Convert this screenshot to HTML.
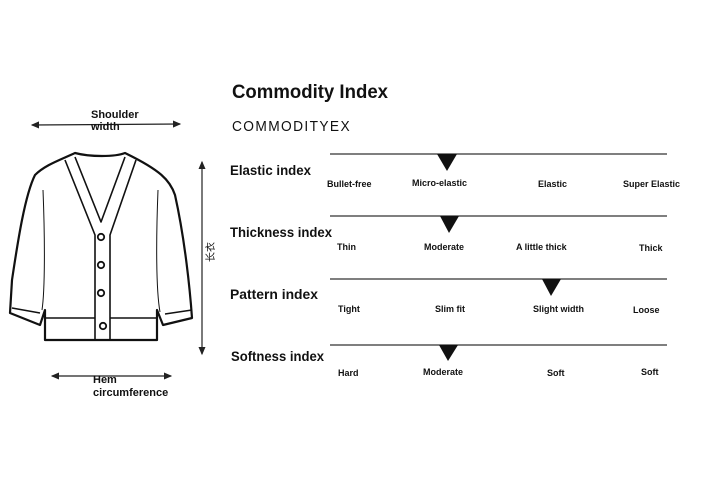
<!DOCTYPE html>
<html><head><meta charset="utf-8"><style>
html,body{margin:0;padding:0;background:#fff;}
svg{display:block}
text{font-family:"Liberation Sans","DejaVu Sans",sans-serif;fill:#111;font-weight:bold}
</style></head><body>
<svg width="720" height="487" viewBox="0 0 720 487" xmlns="http://www.w3.org/2000/svg">
<defs><marker id="a" markerWidth="8" markerHeight="8" refX="6" refY="3" orient="auto-start-reverse"><path d="M0,0 L7,3 L0,6 z" fill="#222"/></marker></defs>
<line x1="32" y1="125" x2="180" y2="124" stroke="#222" stroke-width="1.2" marker-start="url(#a)" marker-end="url(#a)"/>
<text x="91" y="118" font-size="11">Shoulder</text>
<text x="91" y="130" font-size="11">width</text>
<line x1="202" y1="162" x2="202" y2="354" stroke="#222" stroke-width="1.2" marker-start="url(#a)" marker-end="url(#a)"/>
<text x="0" y="0" font-size="10" transform="translate(214,252) rotate(-90)" text-anchor="middle" style="font-family:'Noto Sans CJK SC',sans-serif;font-weight:normal">长衣</text>
<line x1="52" y1="376" x2="171" y2="376" stroke="#222" stroke-width="1.2" marker-start="url(#a)" marker-end="url(#a)"/>
<text x="93" y="383" font-size="11">Hem</text>
<text x="93" y="396" font-size="11">circumference</text>
<g fill="none" stroke="#111" stroke-width="2.2" stroke-linejoin="round">
<path d="M75,153 C60,160 45,165 35,175 C25,195 18,240 12,280 L10,313 L40,325 L45,310 L45,340 L157,340 L157,310 L163,325 L192,318 C190,290 185,240 175,195 C170,180 160,170 125,153 C115,157 90,157 75,153 Z"/>
<path d="M65,160 L95,235 L95,340 M136,160 L110,235 L110,340" stroke-width="1.6"/>
<path d="M75,157 L101,222 L125,157" stroke-width="1.6"/>
<path d="M45,318 L95,318 M110,318 L157,318" stroke-width="1.6"/>
<path d="M12,308 L40,313 M192,310 L165,314" stroke-width="1.4"/>
<path d="M43,190 C45,240 45,290 42,310 M158,190 C156,240 156,290 160,312" stroke-width="1"/>
</g>
<g fill="#fff" stroke="#111" stroke-width="1.8">
<circle cx="101" cy="237" r="3.2"/><circle cx="101" cy="265" r="3.2"/><circle cx="101" cy="293" r="3.2"/><circle cx="103" cy="326" r="3.2"/>
</g>
<text x="232" y="98" font-size="19" textLength="156" lengthAdjust="spacingAndGlyphs">Commodity Index</text>
<text x="232" y="131" font-size="15" style="font-weight:normal;letter-spacing:1.5px" textLength="119" lengthAdjust="spacingAndGlyphs">COMMODITYEX</text>
<g stroke="#333" stroke-width="1.3">
<line x1="330" y1="154" x2="667" y2="154"/>
<line x1="330" y1="216" x2="667" y2="216"/>
<line x1="330" y1="279" x2="667" y2="279"/>
<line x1="330" y1="345" x2="667" y2="345"/>
</g>
<g fill="#111">
<polygon points="437,154 457,154 447,171"/>
<polygon points="440,216 459,216 449,233"/>
<polygon points="542,279 561,279 551,296"/>
<polygon points="439,345 458,345 448,361"/>
</g>
<g font-size="14">
<text x="230" y="175" textLength="81" lengthAdjust="spacingAndGlyphs">Elastic index</text>
<text x="230" y="237" textLength="102" lengthAdjust="spacingAndGlyphs">Thickness index</text>
<text x="230" y="299" textLength="88" lengthAdjust="spacingAndGlyphs">Pattern index</text>
<text x="231" y="361" textLength="93" lengthAdjust="spacingAndGlyphs">Softness index</text>
</g>
<g font-size="9">
<text x="327" y="187">Bullet-free</text><text x="412" y="186">Micro-elastic</text><text x="538" y="187">Elastic</text><text x="623" y="187">Super Elastic</text>
<text x="337" y="250">Thin</text><text x="424" y="250">Moderate</text><text x="516" y="250">A little thick</text><text x="639" y="251">Thick</text>
<text x="338" y="312">Tight</text><text x="435" y="312">Slim fit</text><text x="533" y="312">Slight width</text><text x="633" y="313">Loose</text>
<text x="338" y="376">Hard</text><text x="423" y="375">Moderate</text><text x="547" y="376">Soft</text><text x="641" y="375">Soft</text>
</g>
</svg>
</body></html>
